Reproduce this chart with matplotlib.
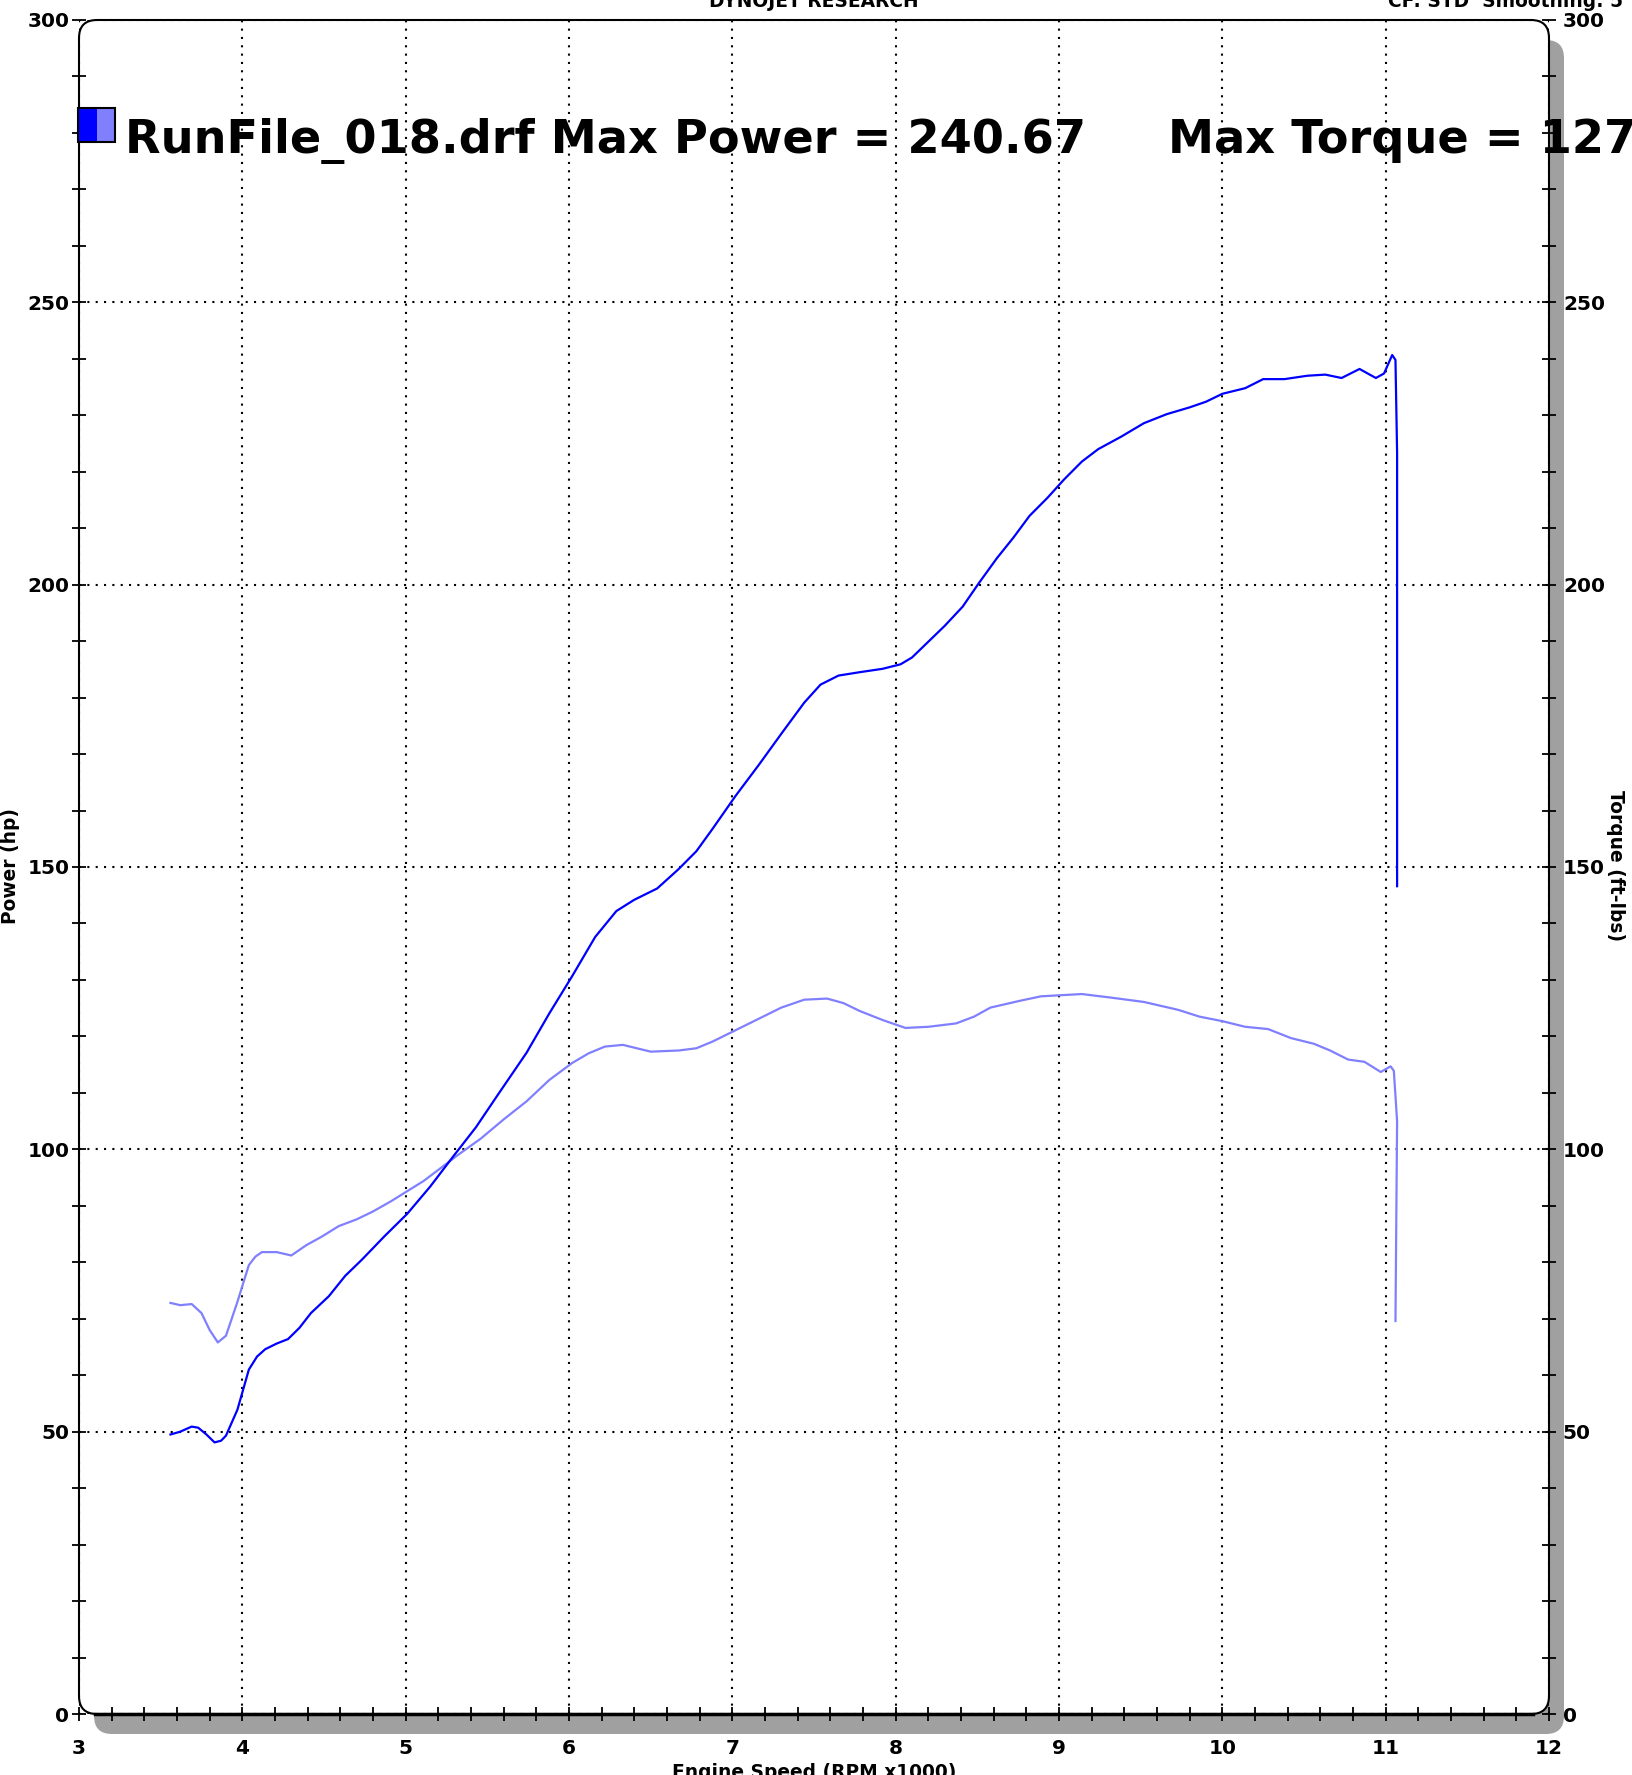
import numpy as np
import matplotlib
matplotlib.use("Agg")
from matplotlib import pyplot as plt
from matplotlib.patches import FancyBboxPatch, Rectangle
from matplotlib.ticker import MultipleLocator

# engine speed (RPM x1000) / power (hp)
rpm_power = [3.56, 3.62, 3.69, 3.73, 3.78, 3.83, 3.87, 3.90, 3.97, 4.04, 4.09, 4.14, 4.21, 4.28, 4.35,
             4.42, 4.53, 4.63, 4.73,
             4.87, 5.01, 5.15, 5.29, 5.43, 5.57, 5.74, 5.88, 6.02, 6.16, 6.29, 6.40, 6.54, 6.67,
             6.78, 6.88, 7.02, 7.16, 7.30, 7.44, 7.54, 7.65, 7.78, 7.92, 8.03, 8.10, 8.20, 8.30,
             8.41, 8.51, 8.62, 8.72, 8.82, 8.93, 9.03, 9.14, 9.24, 9.38, 9.52, 9.66, 9.80, 9.90,
             10.00, 10.14, 10.25, 10.38, 10.52, 10.63, 10.73, 10.84, 10.94, 10.99, 11.04, 11.06,
             11.07, 11.07]
power_hp = [49.5, 50.0, 50.9, 50.7, 49.5, 48.1, 48.4, 49.3, 53.9, 61.0, 63.3, 64.6, 65.6, 66.4, 68.4,
            71.0, 74.0, 77.6, 80.4,
            84.6, 88.6, 93.4, 98.7, 103.9, 109.9, 117.1, 124.1, 130.7, 137.6, 142.2, 144.2, 146.2, 149.6,
            152.8, 156.8, 162.6, 168.0, 173.6, 179.1, 182.3, 183.9, 184.5, 185.1, 185.9, 187.1, 189.9, 192.7,
            196.1, 200.3, 204.7, 208.3, 212.2, 215.4, 218.6, 221.8, 224.0, 226.2, 228.6, 230.2, 231.4, 232.4,
            233.8, 234.8, 236.4, 236.4, 237.0, 237.2, 236.6, 238.2, 236.6, 237.4, 240.67, 239.8,
            223.4, 146.6]

# engine speed / torque (ft-lbs)
rpm_torque = [3.56, 3.62, 3.69, 3.75, 3.80, 3.85, 3.90, 3.97, 4.04, 4.08, 4.12, 4.21, 4.30, 4.39, 4.49, 4.59,
              4.70, 4.80, 4.91, 5.01, 5.11, 5.22, 5.32, 5.46, 5.60, 5.74, 5.88, 6.02, 6.12, 6.22, 6.33,
              6.50, 6.67, 6.78, 6.88, 7.02, 7.16, 7.30, 7.44, 7.58, 7.68, 7.78, 7.92, 8.06, 8.20,
              8.37, 8.48, 8.58, 8.76, 8.89, 9.14, 9.31, 9.52, 9.73, 9.86, 10.00, 10.14, 10.28, 10.42,
              10.56, 10.66, 10.77, 10.87, 10.97, 11.03, 11.05, 11.07, 11.06]
torque_ftlb = [72.8, 72.4, 72.6, 71.0, 68.0, 65.8, 67.0, 73.0, 79.5, 81.0, 81.8, 81.8, 81.2, 83.0, 84.6, 86.4,
               87.6, 89.0, 90.8, 92.6, 94.4, 96.8, 99.0, 101.9, 105.3, 108.5, 112.3, 115.3, 117.0, 118.2, 118.5,
               117.3, 117.5, 117.9, 119.1, 121.1, 123.1, 125.1, 126.5, 126.7, 125.9, 124.5, 122.9, 121.5, 121.7,
               122.3, 123.5, 125.1, 126.3, 127.1, 127.5, 126.9, 126.1, 124.7, 123.5, 122.7, 121.7, 121.3, 119.7,
               118.7, 117.5, 115.9, 115.5, 113.7, 114.7, 113.9, 105.0, 69.6]

x_ticks = [3, 4, 5, 6, 7, 8, 9, 10, 11, 12]
y_ticks = [0, 50, 100, 150, 200, 250, 300]

W, H = 1632, 1775
fig = plt.figure(figsize=(W / 100, H / 100), dpi=100)

# axes box in pixels
x0, x1 = 79, 1549
y_top, y_bot = 20, 1714
left = x0 / W
bottom = 1 - y_bot / H
width = (x1 - x0) / W
height = (y_bot - y_top) / H

ax = fig.add_axes([left, bottom, width, height])
ax.set_facecolor('none')

aspect = W / H
r = 18 / W
# shadow
shadow = FancyBboxPatch(((x0 + 15) / W, bottom - 20 / H), width, height, boxstyle="round,pad=0,rounding_size=%f" % r,
                        mutation_aspect=aspect, transform=fig.transFigure, facecolor='#a0a0a0', edgecolor='none', zorder=-3)
fig.patches.append(shadow)
bg = FancyBboxPatch((left, bottom), width, height, boxstyle="round,pad=0,rounding_size=%f" % r,
                    mutation_aspect=aspect, transform=fig.transFigure, facecolor='white', edgecolor='none', zorder=-2)
fig.patches.append(bg)
frame = FancyBboxPatch((left, bottom), width, height, boxstyle="round,pad=0,rounding_size=%f" % r,
                       mutation_aspect=aspect, transform=fig.transFigure, facecolor='none', edgecolor='black',
                       linewidth=1.5, zorder=5)
fig.patches.append(frame)

ax.plot(rpm_torque, torque_ftlb, color='#8080ff', linewidth=1.6, zorder=3, solid_joinstyle='round')
ax.plot(rpm_power, power_hp, color='#0000ff', linewidth=1.6, zorder=4, solid_joinstyle='round')

ax.set_xlim(3, 12)
ax.set_ylim(0, 300)
for s in ax.spines.values():
    s.set_visible(False)
ax.plot([3.1, 11.9], [0, 0], color='black', linewidth=2.5, clip_on=False, zorder=6)

ax.set_xticks(x_ticks)
ax.set_yticks(y_ticks)
ax.xaxis.set_minor_locator(MultipleLocator(0.2))
ax.yaxis.set_minor_locator(MultipleLocator(10))
ax.grid(True, which='major', color='black', linestyle=(0, (1, 3)), linewidth=1.5)
ax.tick_params(which='both', direction='inout', length=10, width=1.3, color='black')
ax.tick_params(axis='x', which='major', pad=13, labelsize=14.5)
ax.tick_params(axis='y', which='major', pad=2, labelsize=14.5)
for lab in ax.get_xticklabels() + ax.get_yticklabels():
    lab.set_fontweight('bold')

ax2 = ax.twinx()
ax2.set_facecolor('none')
ax2.set_ylim(0, 300)
for s in ax2.spines.values():
    s.set_visible(False)
ax2.set_yticks(y_ticks)
ax2.yaxis.set_minor_locator(MultipleLocator(10))
ax2.tick_params(which='both', direction='inout', length=10, width=1.3, color='black')
ax2.tick_params(axis='y', which='major', pad=5, labelsize=14.5)
for lab in ax2.get_yticklabels():
    lab.set_fontweight('bold')

small = 13.4
fig.text(11 / W, 1 - 765 * 1.1318 / H, 'Power (hp)', rotation=90, ha='center', va='center',
         fontsize=small, fontweight='bold')
fig.text(1616 / W, 1 - 765 * 1.1318 / H, 'Torque (ft-lbs)', rotation=-90, ha='center', va='center',
         fontsize=small, fontweight='bold')
fig.text(0.4988, 1 - 1763 / H, 'Engine Speed (RPM x1000)', ha='center', va='top', fontsize=small, fontweight='bold')
fig.text(0.4988, 1 - 7 / H, 'DYNOJET RESEARCH', ha='center', va='baseline', fontsize=small, fontweight='bold')
fig.text(1623 / W, 1 - 7 / H, 'CF: STD  Smoothing: 5', ha='right', va='baseline', fontsize=small, fontweight='bold')

# legend swatch
fig.patches.append(Rectangle((78 / W, 1 - 142 / H), 18.5 / W, 34 / H, transform=fig.transFigure,
                             facecolor='#0000ff', edgecolor='none', zorder=7))
fig.patches.append(Rectangle((96.5 / W, 1 - 142 / H), 18.5 / W, 34 / H, transform=fig.transFigure,
                             facecolor='#8080ff', edgecolor='none', zorder=7))
fig.patches.append(Rectangle((78 / W, 1 - 142 / H), 37 / W, 34 / H, transform=fig.transFigure,
                             facecolor='none', edgecolor='black', linewidth=1.5, zorder=8))
fig.text(125 / W, 1 - 153 / H, 'RunFile_018.drf Max Power = 240.67', ha='left', va='baseline',
         fontsize=33.3, fontweight='bold', zorder=9)
fig.text(1168 / W, 1 - 153 / H, 'Max Torque = 127', ha='left', va='baseline',
         fontsize=33.3, fontweight='bold', zorder=9)

fig.savefig('out.png', dpi=100)
